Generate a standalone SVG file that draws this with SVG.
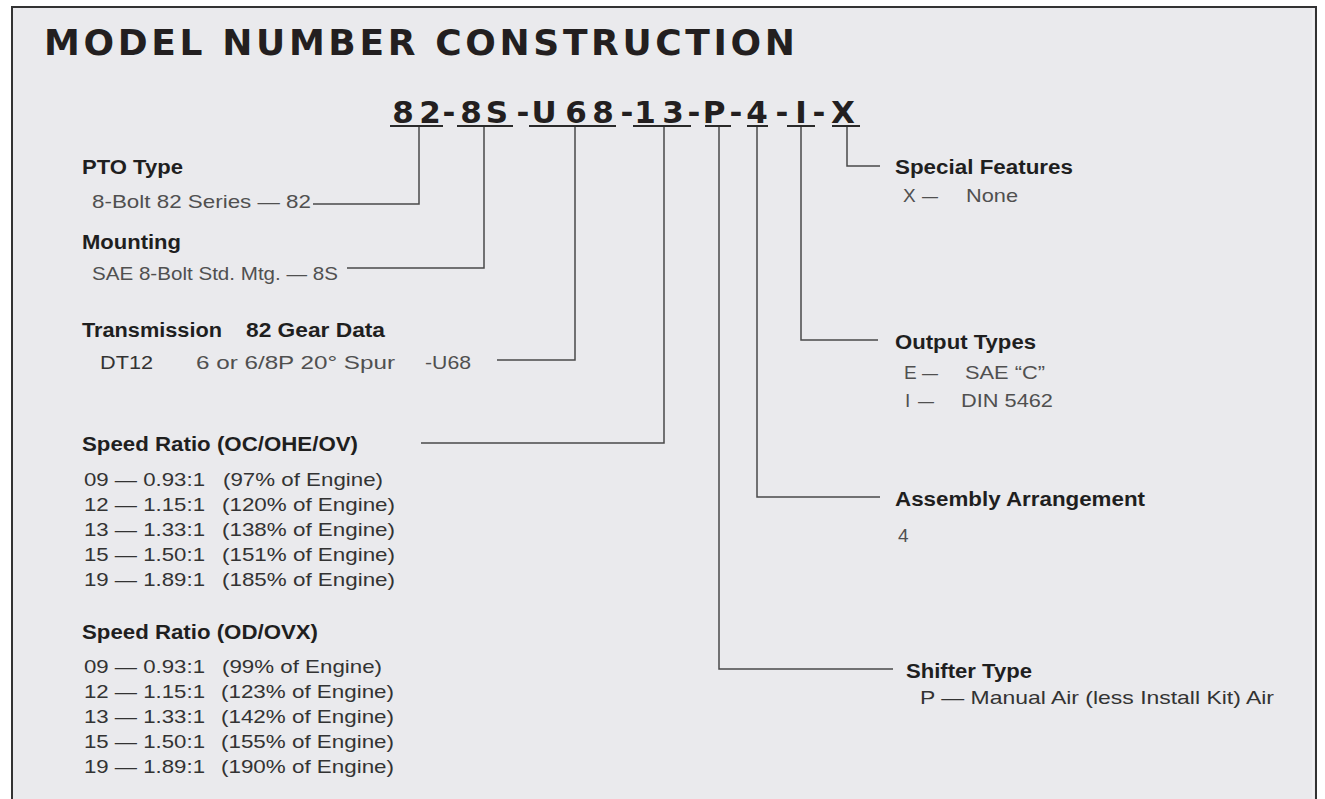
<svg xmlns="http://www.w3.org/2000/svg" width="1325" height="799" viewBox="0 0 1325 799">
<style>
.h{font-family:"Liberation Sans",Arial,sans-serif;font-weight:bold;font-size:20px;fill:#1f1f1f}
.d{font-family:"Liberation Sans",Arial,sans-serif;font-size:19px;fill:#505050}
.l{font-family:"Liberation Sans",Arial,sans-serif;font-size:19px;fill:#333}
.code{font-family:"DejaVu Sans",sans-serif;font-weight:bold;font-size:31px;fill:#231f20}
.ul{stroke:#2a2a2a;stroke-width:2}
.c{fill:none;stroke:#4a4a4a;stroke-width:1.5}
</style>
<rect x="0" y="0" width="1325" height="799" fill="#ffffff"/>
<rect x="12" y="7" width="1304" height="800" fill="#eaeaed" stroke="#333" stroke-width="2"/>
<line x1="1313" y1="8" x2="1313" y2="799" stroke="#f5f5f7" stroke-width="1"/>

<g id="title">
<text x="44" y="55" font-family="DejaVu Sans,sans-serif" font-weight="bold" font-size="36" fill="#231f20" textLength="751" lengthAdjust="spacing">MODEL NUMBER CONSTRUCTION</text>
</g>

<g id="code">
<text class="code" text-anchor="middle" x="403 430 449 471 497 523 544 576 603 627 645 673 694 714 736 757 782 801 819 843" y="123">82-8S-U68-13-P-4-I-X</text>
<line class="ul" x1="390" y1="126" x2="443" y2="126"/>
<line class="ul" x1="457" y1="126" x2="513" y2="126"/>
<line class="ul" x1="529" y1="126" x2="616" y2="126"/>
<line class="ul" x1="633" y1="126" x2="691" y2="126"/>
<line class="ul" x1="705" y1="126" x2="731" y2="126"/>
<line class="ul" x1="747" y1="126" x2="768" y2="126"/>
<line class="ul" x1="787" y1="126" x2="815" y2="126"/>
<line class="ul" x1="832" y1="126" x2="860" y2="126"/>
</g>

<g id="connectors">
<polyline class="c" points="419,127 419,204 313,204"/>
<polyline class="c" points="484,127 484,268 347,268"/>
<polyline class="c" points="575,127 575,360 497,360"/>
<polyline class="c" points="664,127 664,443 421,443"/>
<polyline class="c" points="719,127 719,669 893,669"/>
<polyline class="c" points="757,127 757,497 880,497"/>
<polyline class="c" points="801,127 801,340 878,340"/>
<polyline class="c" points="847,127 847,166 880,166"/>
</g>

<g id="pto-type">
<text class="h" x="82" y="174" textLength="101" lengthAdjust="spacingAndGlyphs">PTO Type</text>
<text class="d" x="92" y="208" textLength="219" lengthAdjust="spacingAndGlyphs">8-Bolt 82 Series — 82</text>
</g>

<g id="mounting">
<text class="h" x="82" y="249" textLength="99" lengthAdjust="spacingAndGlyphs">Mounting</text>
<text class="d" x="92" y="280" textLength="246" lengthAdjust="spacingAndGlyphs">SAE 8-Bolt Std. Mtg. — 8S</text>
</g>

<g id="transmission">
<text class="h" x="82" y="337" textLength="140" lengthAdjust="spacingAndGlyphs">Transmission</text>
<text class="h" x="246" y="337" textLength="139" lengthAdjust="spacingAndGlyphs">82 Gear Data</text>
<text class="l" x="100" y="369" textLength="53" lengthAdjust="spacingAndGlyphs">DT12</text>
<text class="d" x="196" y="369" textLength="199" lengthAdjust="spacingAndGlyphs">6 or 6/8P 20° Spur</text>
<text class="d" x="425" y="369" textLength="46" lengthAdjust="spacingAndGlyphs">-U68</text>
</g>

<g id="speed-ratio-oc">
<text class="h" x="82" y="451" textLength="276" lengthAdjust="spacingAndGlyphs">Speed Ratio (OC/OHE/OV)</text>
<text class="l" x="84" y="486" textLength="121" lengthAdjust="spacingAndGlyphs">09 — 0.93:1</text>
<text class="l" x="223" y="486" textLength="160" lengthAdjust="spacingAndGlyphs">(97% of Engine)</text>
<text class="l" x="84" y="511" textLength="121" lengthAdjust="spacingAndGlyphs">12 — 1.15:1</text>
<text class="l" x="222" y="511" textLength="173" lengthAdjust="spacingAndGlyphs">(120% of Engine)</text>
<text class="l" x="84" y="536" textLength="121" lengthAdjust="spacingAndGlyphs">13 — 1.33:1</text>
<text class="l" x="222" y="536" textLength="173" lengthAdjust="spacingAndGlyphs">(138% of Engine)</text>
<text class="l" x="84" y="561" textLength="121" lengthAdjust="spacingAndGlyphs">15 — 1.50:1</text>
<text class="l" x="222" y="561" textLength="173" lengthAdjust="spacingAndGlyphs">(151% of Engine)</text>
<text class="l" x="84" y="586" textLength="121" lengthAdjust="spacingAndGlyphs">19 — 1.89:1</text>
<text class="l" x="222" y="586" textLength="173" lengthAdjust="spacingAndGlyphs">(185% of Engine)</text>
</g>

<g id="speed-ratio-od">
<text class="h" x="82" y="639" textLength="236" lengthAdjust="spacingAndGlyphs">Speed Ratio (OD/OVX)</text>
<text class="l" x="84" y="673" textLength="121" lengthAdjust="spacingAndGlyphs">09 — 0.93:1</text>
<text class="l" x="222" y="673" textLength="160" lengthAdjust="spacingAndGlyphs">(99% of Engine)</text>
<text class="l" x="84" y="698" textLength="121" lengthAdjust="spacingAndGlyphs">12 — 1.15:1</text>
<text class="l" x="221" y="698" textLength="173" lengthAdjust="spacingAndGlyphs">(123% of Engine)</text>
<text class="l" x="84" y="723" textLength="121" lengthAdjust="spacingAndGlyphs">13 — 1.33:1</text>
<text class="l" x="221" y="723" textLength="173" lengthAdjust="spacingAndGlyphs">(142% of Engine)</text>
<text class="l" x="84" y="748" textLength="121" lengthAdjust="spacingAndGlyphs">15 — 1.50:1</text>
<text class="l" x="221" y="748" textLength="173" lengthAdjust="spacingAndGlyphs">(155% of Engine)</text>
<text class="l" x="84" y="773" textLength="121" lengthAdjust="spacingAndGlyphs">19 — 1.89:1</text>
<text class="l" x="221" y="773" textLength="173" lengthAdjust="spacingAndGlyphs">(190% of Engine)</text>
</g>

<g id="special-features">
<text class="h" x="895" y="174" textLength="178" lengthAdjust="spacingAndGlyphs">Special Features</text>
<text class="d" x="903" y="202">X</text>
<text class="d" x="922" y="202" textLength="16" lengthAdjust="spacingAndGlyphs">—</text>
<text class="d" x="966" y="202" textLength="52" lengthAdjust="spacingAndGlyphs">None</text>
</g>

<g id="output-types">
<text class="h" x="895" y="349" textLength="141" lengthAdjust="spacingAndGlyphs">Output Types</text>
<text class="d" x="904" y="379">E</text>
<text class="d" x="922" y="379" textLength="16" lengthAdjust="spacingAndGlyphs">—</text>
<text class="d" x="965" y="379" textLength="80" lengthAdjust="spacingAndGlyphs">SAE “C”</text>
<text class="d" x="905" y="407">I</text>
<text class="d" x="918" y="407" textLength="16" lengthAdjust="spacingAndGlyphs">—</text>
<text class="d" x="961" y="407" textLength="92" lengthAdjust="spacingAndGlyphs">DIN 5462</text>
</g>

<g id="assembly-arrangement">
<text class="h" x="895" y="506" textLength="250" lengthAdjust="spacingAndGlyphs">Assembly Arrangement</text>
<text class="d" x="898" y="542">4</text>
</g>

<g id="shifter-type">
<text class="h" x="906" y="678" textLength="126" lengthAdjust="spacingAndGlyphs">Shifter Type</text>
<text class="l" x="920" y="704" textLength="354" lengthAdjust="spacingAndGlyphs">P — Manual Air (less Install Kit) Air</text>
</g>
</svg>
